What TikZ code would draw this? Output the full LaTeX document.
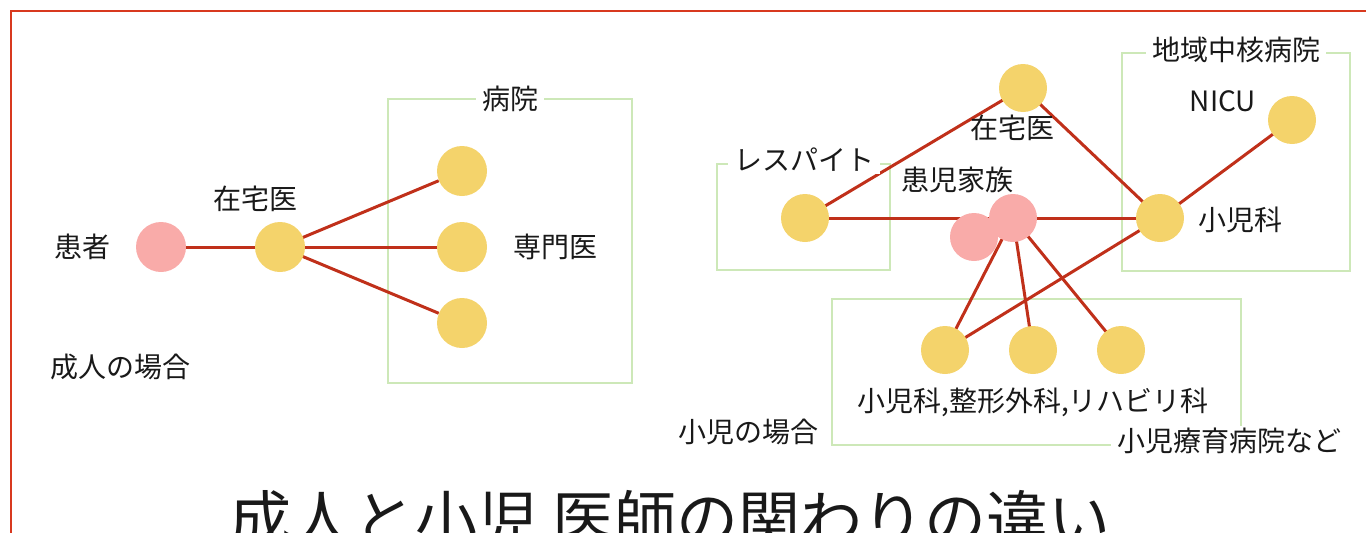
\documentclass[tikz,border=0pt]{standalone}
\usepackage{fontspec}
\setmainfont{Noto Sans CJK JP}
\usetikzlibrary{backgrounds}
\definecolor{cframe}{HTML}{D8391F}
\definecolor{cyel}{HTML}{F4D36B}
\definecolor{cpink}{HTML}{F9ABA9}
\definecolor{cline}{HTML}{C0301A}
\definecolor{cgreen}{HTML}{CDE8B8}
\begin{document}
\begin{tikzpicture}[x=1pt,y=-1pt,
  yel/.style={circle,fill=cyel,minimum size=48pt,inner sep=0pt},
  pnk/.style={circle,fill=cpink,minimum size=48pt,inner sep=0pt},
  lnk/.style={draw=cline,line width=3pt},
  grp/.style={draw=cgreen,line width=2.5pt},
  lbl/.style={font=\fontsize{28}{32}\selectfont,inner sep=0pt,text=black!90},
  glbl/.style={lbl,fill=white,inner xsep=6pt,inner ysep=2pt}]
\useasboundingbox (0,0) rectangle (1366,533);
\clip (0,0) rectangle (1366,533);
\draw[cframe,line width=2pt] (11,560) -- (11,11) -- (1400,11);

% ---------- adult ----------
\node[pnk,minimum size=50pt] (pat) at (161,247) {};
\node[yel,minimum size=50pt] (home) at (280,247) {};
\node[yel,minimum size=50pt] (s1) at (462,171) {};
\node[yel,minimum size=50pt] (s2) at (462,247) {};
\node[yel,minimum size=50pt] (s3) at (462,323) {};
\node[lbl] (tpat) at (82,247) {患者};
\node[lbl] (thome) at (255,199) {在宅医};
\node[lbl] (tspec) at (555,247) {専門医};
\node[lbl] (tadult) at (120,367) {成人の場合};
\node[glbl] (thosp) at (510,99) {病院};

% ---------- child ----------
\node[yel] (resp) at (805,218) {};
\node[yel] (home2) at (1023,88) {};
\node[pnk] (pk1) at (974,237) {};
\node[pnk] (pk2) at (1013,218) {};
\node[yel] (ped) at (1160,218) {};
\node[yel] (nicu) at (1292,120) {};
\node[yel] (b1) at (945,350) {};
\node[yel] (b2) at (1033,350) {};
\node[yel] (b3) at (1121,350) {};
\node[glbl] (tresp) at (804,160) {レスパイト};
\node[glbl] (treg) at (1236,50) {地域中核病院};
\node[glbl] (tryo) at (1229,441) {小児療育病院など};
\node[lbl] (thome2) at (1012,128) {在宅医};
\node[lbl] (tfam) at (957,180) {患児家族};
\node[lbl] (tnicu) at (1223,101) {NICU};
\node[lbl] (tped) at (1240,220) {小児科};
\node[lbl] (tdept) at (1033,402) {小児科,整形外科,リハビリ科};
\node[lbl] (tchild) at (748,432) {小児の場合};

\node[font=\fontsize{62}{72}\selectfont,anchor=base,inner sep=0pt,text=black!90] (title) at (670,542) {成人と小児 医師の関わりの違い};

\begin{scope}[on background layer]
  \draw[grp] (388,99) rectangle (632,383);
  \draw[grp] (717,164) rectangle (890,270);
  \draw[grp] (1122,53) rectangle (1350,271);
  \draw[grp] (832,299) rectangle (1241,445);
  \draw[lnk] (pat) -- (home);
  \draw[lnk] (home.center) -- (s1);
  \draw[lnk] (home.center) -- (s2);
  \draw[lnk] (home.center) -- (s3);
  \draw[lnk] (resp.center) -- (home2.center);
  \draw[lnk] (resp.center) -- (pk2.center);
  \draw[lnk] (pk2.center) -- (ped.center);
  \draw[lnk] (home2.center) -- (ped.center);
  \draw[lnk] (ped.center) -- (nicu.center);
  \draw[lnk] (ped.center) -- (b1.center);
  \draw[lnk] (pk2.center) -- (b1.center);
  \draw[lnk] (pk2.center) -- (b2.center);
  \draw[lnk] (pk2.center) -- (b3.center);
\end{scope}
\end{tikzpicture}
\end{document}
